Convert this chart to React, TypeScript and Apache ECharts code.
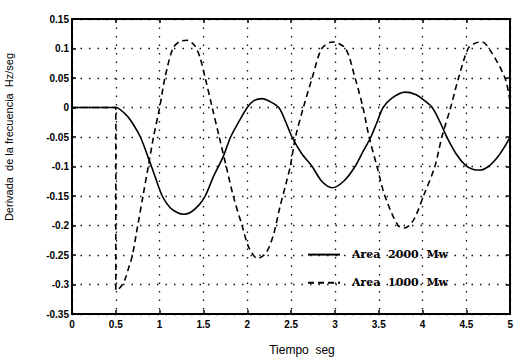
import React, { useEffect, useRef } from "react";
import * as echarts from "echarts";

// Area 2000 Mw (solid line)
const tA2000 = [0, 0.5, 0.6, 0.67, 0.78, 0.87, 0.95, 1.03, 1.12, 1.2, 1.27, 1.35, 1.45, 1.52, 1.62, 1.72, 1.81, 1.9, 2.0, 2.08, 2.17, 2.26, 2.36, 2.44, 2.51, 2.62, 2.74, 2.85, 2.97, 3.1, 3.23, 3.33, 3.41, 3.48, 3.55, 3.65, 3.8, 3.92, 4.02, 4.11, 4.2, 4.27, 4.38, 4.49, 4.58, 4.66, 4.75, 4.85, 4.93, 5.0];
const vA2000 = [0, 0, -0.01, -0.022, -0.05, -0.085, -0.118, -0.15, -0.17, -0.178, -0.181, -0.178, -0.165, -0.15, -0.115, -0.085, -0.05, -0.025, 0, 0.012, 0.015, 0.01, 0, -0.025, -0.05, -0.078, -0.1, -0.125, -0.136, -0.125, -0.1, -0.072, -0.05, -0.025, 0, 0.016, 0.026, 0.022, 0.012, 0, -0.025, -0.048, -0.078, -0.098, -0.105, -0.106, -0.1, -0.085, -0.068, -0.05];

// Area 1000 Mw (dashed line)
const tA1000 = [0, 0.5, 0.5, 0.55, 0.6, 0.65, 0.69, 0.75, 0.81, 0.87, 0.93, 1.0, 1.06, 1.15, 1.22, 1.31, 1.4, 1.46, 1.52, 1.6, 1.68, 1.76, 1.84, 1.94, 2.02, 2.12, 2.22, 2.3, 2.37, 2.44, 2.49, 2.55, 2.64, 2.74, 2.85, 2.97, 3.12, 3.23, 3.32, 3.39, 3.48, 3.57, 3.72, 3.8, 3.9, 4.01, 4.14, 4.22, 4.32, 4.41, 4.52, 4.6, 4.68, 4.78, 4.94, 5.0];
const vA1000 = [0, 0, -0.31, -0.305, -0.293, -0.27, -0.25, -0.2, -0.15, -0.1, -0.05, 0, 0.05, 0.1, 0.111, 0.114, 0.105, 0.085, 0.05, 0, -0.05, -0.1, -0.15, -0.2, -0.238, -0.256, -0.245, -0.215, -0.17, -0.13, -0.1, -0.05, 0, 0.05, 0.1, 0.111, 0.1, 0.05, 0, -0.05, -0.1, -0.15, -0.2, -0.204, -0.19, -0.15, -0.1, -0.05, 0, 0.05, 0.1, 0.109, 0.111, 0.095, 0.05, 0.009];

const seriesNames = ["Area  2000  Mw", "Area  1000  Mw"];
const xTitle = "Tiempo  seg";
const yTitle = "Derivada  de la frecuencia  Hz/seg";

export default function App() {
  const ref = useRef<HTMLDivElement>(null);
  useEffect(() => {
    document.body.style.margin = "0";
    const chart = echarts.init(ref.current!, null, { renderer: "svg" });
    const axisCommon = {
      axisLine: { show: true, onZero: false, lineStyle: { color: "#000", width: 2 } },
      axisTick: { show: true, inside: true, length: 4, lineStyle: { color: "#000", width: 1.5 } },
    };
    const labelStyle = {
      color: "#000",
      fontFamily: "Liberation Sans, Arial, sans-serif",
      fontSize: 10,
      fontWeight: "bold" as const,
    };
    const splitStyle = { show: true, lineStyle: { color: "#111", width: 1.3, type: [1.5, 7] as any } };
    chart.setOption({
      animation: false,
      backgroundColor: "#fff",
      grid: { left: 72, right: 5, top: 19, bottom: 46, show: false },
      xAxis: [
        {
          type: "value", min: 0, max: 5, interval: 0.5, position: "bottom",
          ...axisCommon,
          axisLabel: { ...labelStyle, margin: 5 },
          splitLine: splitStyle,
        },
        {
          type: "value", min: 0, max: 5, interval: 0.5, position: "top",
          ...axisCommon,
          axisLabel: { show: false },
          splitLine: { show: false },
        },
      ],
      yAxis: [
        {
          type: "value", min: -0.35, max: 0.15, interval: 0.05, position: "left",
          ...axisCommon,
          axisLabel: { ...labelStyle, margin: 3, formatter: (v: number) => String(Math.round(v * 100) / 100) },
          splitLine: splitStyle,
        },
        {
          type: "value", min: -0.35, max: 0.15, interval: 0.05, position: "right",
          ...axisCommon,
          axisLabel: { show: false },
          splitLine: { show: false },
        },
      ],
      legend: {
        orient: "vertical",
        left: 302,
        top: 244,
        itemWidth: 32,
        itemHeight: 14,
        itemGap: 17,
        itemStyle: { color: "transparent", borderColor: "transparent", borderWidth: 0 },
        textStyle: { color: "#000", fontFamily: "DejaVu Serif", fontWeight: "bold", fontSize: 11, padding: [0, 0, 0, 7] },
        data: seriesNames,
      },
      series: [
        {
          name: seriesNames[0],
          type: "line",
          data: tA2000.map((t, i) => [t, vA2000[i]]),
          showSymbol: false,
          symbol: "none",
          smooth: 0.3,
          lineStyle: { color: "#000", width: 1.6, type: "solid" },
          itemStyle: { color: "#000" },
        },
        {
          name: seriesNames[1],
          type: "line",
          data: tA1000.map((t, i) => [t, vA1000[i]]),
          showSymbol: false,
          symbol: "none",
          smooth: 0.3,
          lineStyle: { color: "#000", width: 1.6, type: [6, 4] },
          itemStyle: { color: "#000" },
        },
      ],
      graphic: [
        {
          type: "text",
          x: 9,
          y: 137,
          rotation: Math.PI / 2,
          style: {
            text: yTitle,
            fill: "#000",
            font: "11px Liberation Sans, Arial, sans-serif",
            align: "center",
            verticalAlign: "middle",
          },
        },
        {
          type: "text",
          x: 302,
          y: 350,
          style: {
            text: xTitle,
            fill: "#000",
            font: "12px Liberation Sans, Arial, sans-serif",
            align: "center",
            verticalAlign: "middle",
          },
        },
      ],
    });
    return () => chart.dispose();
  }, []);
  return <div ref={ref} style={{ width: 516, height: 360 }} />;
}
